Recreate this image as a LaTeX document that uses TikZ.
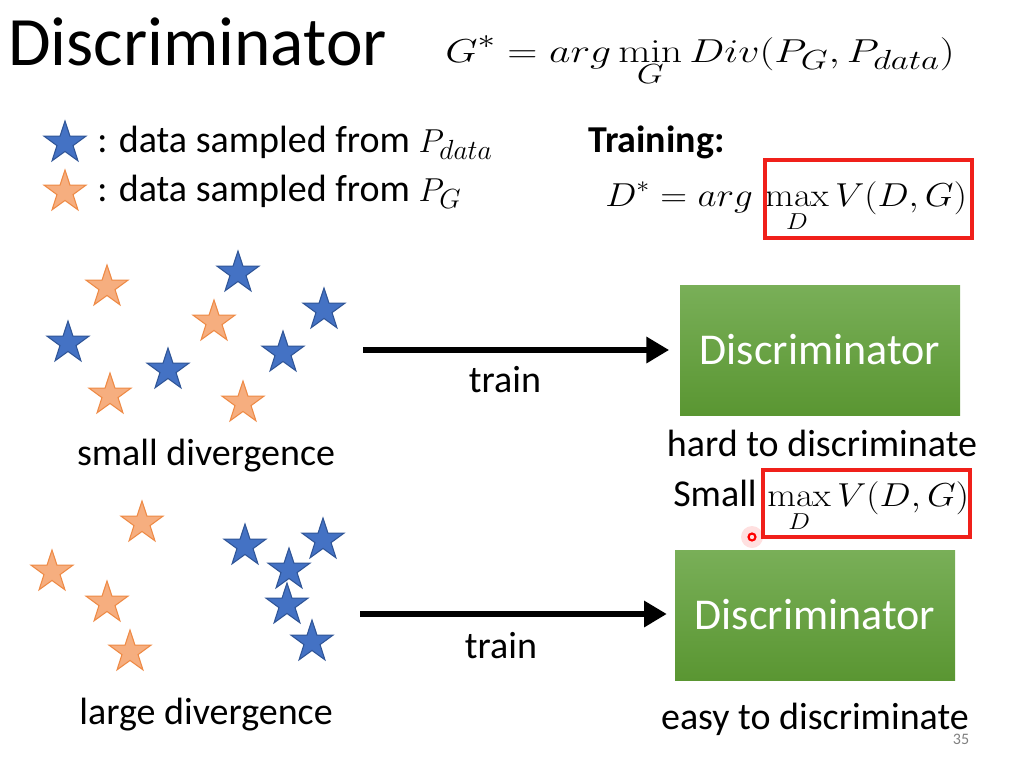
\documentclass[tikz,border=0pt]{standalone}
\usepackage[no-math]{fontspec}
\setmainfont{Carlito}
\usetikzlibrary{shapes.geometric,arrows.meta}
\definecolor{bluestar}{HTML}{4472C4}
\definecolor{bluestarline}{HTML}{2F5597}
\definecolor{orgstar}{HTML}{F6AE7F}
\definecolor{orgstarline}{HTML}{EE8A45}
\definecolor{gtop}{HTML}{79AF58}
\definecolor{gbot}{HTML}{5A9632}
\definecolor{redbox}{HTML}{F0201A}
\tikzset{
  starbase/.style={star, star points=5, star point ratio=2.6, minimum size=33pt, inner sep=0pt, line width=0.8pt},
  bstar/.style={starbase, fill=bluestar, draw=bluestarline},
  ostar/.style={starbase, fill=orgstar, draw=orgstarline},
  discbox/.style={minimum width=210pt, minimum height=97.5pt, top color=gtop, bottom color=gbot, draw=none, text=white, font=\fontsize{33}{33}\selectfont, inner sep=0pt},
  txt/.style={font=\fontsize{28.5}{28.5}\selectfont, inner sep=0pt},
  trainarrow/.style={line width=4pt, -{Triangle[length=17pt,width=19pt]}},
  hl/.style={draw=redbox, line width=2.3pt},
}
\begin{document}
\begin{tikzpicture}[x=0.75pt,y=-0.75pt]
\useasboundingbox (0,0) rectangle (1029,757);
% title
\node[anchor=base west, inner sep=0pt, font=\fontsize{52}{52}\selectfont] (title) at (8,65) {Discriminator};
\node[anchor=base west, inner sep=0pt, font=\fontsize{32}{32}\selectfont] (geq) at (445,62) {\scalebox{1.26}[1]{$\displaystyle G^* = arg\min_{G} Div(P_G,P_{data})$}};
% legend
\node[bstar] (lb) at (65,143) {};
\node[ostar] (lo) at (65,192) {};
\node[txt, anchor=base west] (lbt) at (97,152) {: data sampled from $P_{data}$};
\node[txt, anchor=base west] (lot) at (97,201) {: data sampled from $P_G$};
% training
\node[txt, anchor=base west, font=\fontsize{28.5}{28.5}\selectfont\bfseries] (tr) at (588,152) {Training:};
\node[anchor=base west, inner sep=0pt, font=\fontsize{27}{27}\selectfont] (deq) at (605,206) {\scalebox{1.12}[1]{$\displaystyle D^* = arg\,\max_{\rule{0pt}{16pt}D} V(D,G)$}};
\draw[hl] (765,160) rectangle (972,238);
% small divergence stars
\node[ostar] (s1) at (107,287) {};
\node[ostar] (s2) at (214,322) {};
\node[ostar] (s3) at (110,395) {};
\node[ostar] (s4) at (243,403) {};
\node[bstar] (s5) at (238,273) {};
\node[bstar] (s6) at (324,310) {};
\node[bstar] (s7) at (68,343) {};
\node[bstar] (s8) at (168,370) {};
\node[bstar] (s9) at (283,353) {};
\node[txt, anchor=base] (sdiv) at (206,465) {small divergence};
% large divergence stars
\node[ostar] (l1) at (142,523) {};
\node[ostar] (l2) at (52,572) {};
\node[ostar] (l3) at (107,603) {};
\node[ostar] (l4) at (130,652) {};
\node[bstar] (l5) at (245,546) {};
\node[bstar] (l6) at (323,540) {};
\node[bstar] (l7) at (289,570) {};
\node[bstar] (l8) at (287,605) {};
\node[bstar] (l9) at (312,642) {};
\node[txt, anchor=base] (ldiv) at (206,724) {large divergence};
% discriminators
\node[discbox] (d1) at (820,350) {Discriminator};
\node[discbox] (d2) at (815,615) {Discriminator};
\coordinate (a1s) at (363,350);
\coordinate (a2s) at (360,614);
\draw[trainarrow] (a1s) -- ([xshift=-8pt]d1.west |- a1s);
\draw[trainarrow] (a2s) -- ([xshift=-6pt]d2.west |- a2s);
\node[txt, anchor=base] (t1) at (505,392) {train};
\node[txt, anchor=base] (t2) at (501,658) {train};
% texts right
\node[txt, anchor=base] (hard) at (822,456) {hard to discriminate};
\node[txt, anchor=base west] (small) at (673,506) {Small};
\node[anchor=base west, inner sep=0pt, font=\fontsize{27}{27}\selectfont] (smax) at (767,506) {\scalebox{1.12}[1]{$\displaystyle \max_{\rule{0pt}{16pt}D} V(D,G)$}};
\draw[hl] (763,470) rectangle (970,537);
\node[txt, anchor=base] (easy) at (815,729) {easy to discriminate};
\node[inner sep=0pt, text=gray, font=\fontsize{12}{12}\selectfont] (pg) at (961,739) {35};
% pointer dot
\fill[red, opacity=0.12] (752,537) circle (11);
\draw[red, line width=1.6pt] (752,537) circle (3.5);
\end{tikzpicture}
\end{document}
